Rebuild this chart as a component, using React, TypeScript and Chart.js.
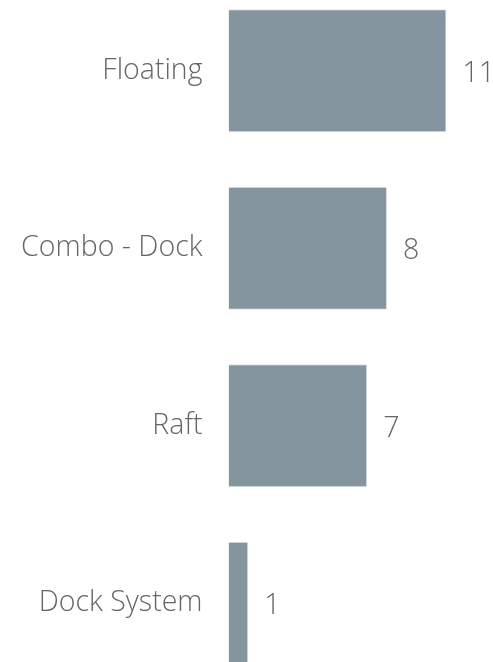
import React, { useEffect, useRef } from "react";
import { Chart, registerables } from "chart.js";

Chart.register(...registerables);

const categories = ["Floating", "Combo - Dock", "Raft", "Dock System"];
const counts = [11, 8, 7, 1];
const xMin = 0;
const xMax = 11;

const FONT = "'Open Sans', 'DejaVu Sans', sans-serif";
const TEXT_COLOR = "#666666";
const FONT_SIZE = 28.5;

const valueLabels = {
  id: "valueLabels",
  afterDatasetsDraw(chart: any) {
    const ctx = chart.ctx;
    const meta = chart.getDatasetMeta(0);
    ctx.save();
    ctx.font = `300 ${FONT_SIZE}px ${FONT}`;
    ctx.fillStyle = TEXT_COLOR;
    ctx.textAlign = "left";
    ctx.textBaseline = "middle";
    meta.data.forEach((bar: any, i: number) => {
      ctx.fillText(String(chart.data.datasets[0].data[i]), bar.x + 16, bar.y + 3);
    });
    ctx.restore();
  },
};

export default function App() {
  const ref = useRef<HTMLCanvasElement | null>(null);
  useEffect(() => {
    if (!ref.current) return;
    const chart = new Chart(ref.current, {
      type: "bar",
      data: {
        labels: categories,
        datasets: [
          {
            data: counts,
            backgroundColor: "#84959f",
            borderColor: "#dfe4e7",
            borderWidth: 1,
            categoryPercentage: 1,
            barPercentage: 0.692,
          },
        ],
      },
      options: {
        indexAxis: "y",
        animation: false,
        responsive: false,
        maintainAspectRatio: false,
        devicePixelRatio: 1,
        layout: { padding: { left: 0, right: 46.5, top: 0, bottom: 0 } },
        plugins: {
          legend: { display: false },
          tooltip: { enabled: false },
        },
        scales: {
          x: {
            display: false,
            min: xMin,
            max: xMax,
          },
          y: {
            grid: { display: false, drawTicks: false },
            border: { display: false },
            afterFit(scale: any) {
              scale.width = 228.5;
              scale.paddingTop = 0;
              scale.paddingBottom = 0;
            },
            ticks: {
              padding: 26,
              color: TEXT_COLOR,
              font: { family: FONT, size: FONT_SIZE, weight: 300 as any },
            },
          },
        },
      },
      plugins: [valueLabels],
    });
    return () => chart.destroy();
  }, []);

  return (
    <canvas
      ref={ref}
      width={493}
      height={710}
      style={{ position: "absolute", left: 0, top: -18, width: 493, height: 710 }}
    />
  );
}
